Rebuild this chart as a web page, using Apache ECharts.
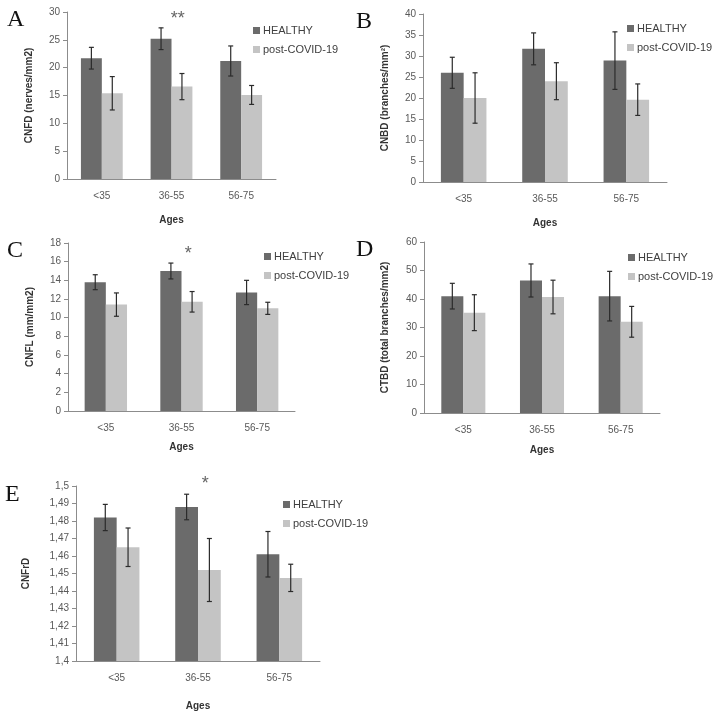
<!DOCTYPE html>
<html><head><meta charset="utf-8">
<script src="https://cdn.jsdelivr.net/npm/echarts@6/dist/echarts.min.js"></script>
<style>html,body{margin:0;padding:0;background:#fff}#c{width:715px;height:715px}</style>
</head><body><div id="c"></div>
<script>
// ---- data ----
const categories = ['<35', '36-55', '56-75'];
const seriesNames = ['HEALTHY', 'post-COVID-19'];

const cnfdHealthy = [21.7, 25.2, 21.2];
const cnfdHealthySd = [1.95, 1.95, 2.7];
const cnfdCovid = [15.4, 16.6, 15.1];
const cnfdCovidSd = [3.0, 2.35, 1.7];
const cnfdSig = ['', '**', ''];

const cnbdHealthy = [26.0, 31.7, 28.9];
const cnbdHealthySd = [3.7, 3.8, 6.85];
const cnbdCovid = [20.0, 24.0, 19.6];
const cnbdCovidSd = [6.0, 4.4, 3.75];
const cnbdSig = ['', '', ''];

const cnflHealthy = [13.8, 15.0, 12.7];
const cnflHealthySd = [0.8, 0.85, 1.3];
const cnflCovid = [11.4, 11.7, 11.0];
const cnflCovidSd = [1.25, 1.1, 0.65];
const cnflSig = ['', '*', ''];

const ctbdHealthy = [41.0, 46.5, 41.0];
const ctbdHealthySd = [4.5, 5.8, 8.7];
const ctbdCovid = [35.2, 40.7, 32.0];
const ctbdCovidSd = [6.3, 5.9, 5.4];
const ctbdSig = ['', '', ''];

const cnfrdHealthy = [1.482, 1.488, 1.461];
const cnfrdHealthySd = [0.0075, 0.0073, 0.013];
const cnfrdCovid = [1.465, 1.452, 1.4475];
const cnfrdCovidSd = [0.011, 0.018, 0.0078];
const cnfrdSig = ['', '*', ''];

const panels = [
  {letter: 'A', yName: 'CNFD (nerves/mm2)', h: cnfdHealthy, hs: cnfdHealthySd, c: cnfdCovid, cs: cnfdCovidSd, sig: cnfdSig, sigY: 28.8, min: 0, max: 30, interval: 5},
  {letter: 'B', yName: 'CNBD (branches/mm²)', h: cnbdHealthy, hs: cnbdHealthySd, c: cnbdCovid, cs: cnbdCovidSd, sig: cnbdSig, sigY: 38, min: 0, max: 40, interval: 5},
  {letter: 'C', yName: 'CNFL (mm/mm2)', h: cnflHealthy, hs: cnflHealthySd, c: cnflCovid, cs: cnflCovidSd, sig: cnflSig, sigY: 16.8, min: 0, max: 18, interval: 2},
  {letter: 'D', yName: 'CTBD (total branches/mm2)', h: ctbdHealthy, hs: ctbdHealthySd, c: ctbdCovid, cs: ctbdCovidSd, sig: ctbdSig, sigY: 58, min: 0, max: 60, interval: 10},
  {letter: 'E', yName: 'CNFrD', h: cnfrdHealthy, hs: cnfrdHealthySd, c: cnfrdCovid, cs: cnfrdCovidSd, sig: cnfrdSig, sigY: 1.5012, min: 1.4, max: 1.5, interval: 0.01, comma: true}
];

// ---- layout (positions/styles) ----
const layout = [
  {grid: {left: 67, top: 12, width: 209, height: 167}, bw: 0.30, yGap: 33, xGap: 36, legend: {left: 248, top: 20}, title: {left: 7, top: 8}},
  {grid: {left: 423, top: 14, width: 244, height: 168}, bw: 0.28, yGap: 33, xGap: 36, legend: {left: 622, top: 18}, title: {left: 356, top: 10}},
  {grid: {left: 68, top: 243, width: 227, height: 168}, bw: 0.28, yGap: 33, xGap: 31, legend: {left: 259, top: 246}, title: {left: 7, top: 239}},
  {grid: {left: 424, top: 242, width: 236, height: 171}, bw: 0.28, yGap: 34, xGap: 32, legend: {left: 623, top: 247}, title: {left: 356, top: 238}},
  {grid: {left: 76, top: 486, width: 244, height: 175}, bw: 0.28, yGap: 45, xGap: 40, legend: {left: 278, top: 494}, title: {left: 5, top: 483}}
];

const DARK = '#6b6b6b', LIGHT = '#c4c4c4', AXIS = '#8c8c8c', TXT = '#595959';
const FONT = 'Liberation Sans, Arial, sans-serif';

const option = {animation: false, grid: [], xAxis: [], yAxis: [], series: [], legend: [], title: []};

panels.forEach((p, i) => {
  const L = layout[i];
  option.grid.push(Object.assign({containLabel: false}, L.grid));
  option.title.push({text: p.letter, left: L.title.left, top: L.title.top, padding: 0,
    textStyle: {fontFamily: 'Liberation Serif, Times New Roman, serif', fontSize: 24, fontWeight: 'normal', color: '#111'}});
  option.xAxis.push({type: 'category', gridIndex: i, data: categories,
    name: 'Ages', nameLocation: 'middle', nameGap: L.xGap,
    nameTextStyle: {fontFamily: FONT, fontSize: 10, fontWeight: 'bold', color: '#333'},
    axisLine: {lineStyle: {color: AXIS}}, axisTick: {length: 4, lineStyle: {color: AXIS}},
    axisLabel: {fontFamily: FONT, fontSize: 10, color: TXT, margin: 12}});
  option.yAxis.push({type: 'value', gridIndex: i, min: p.min, max: p.max, interval: p.interval,
    name: p.yName, nameLocation: 'middle', nameGap: L.yGap,
    nameTextStyle: {fontFamily: FONT, fontSize: 10, fontWeight: 'bold', color: '#333'},
    splitLine: {show: false},
    axisLine: {show: true, lineStyle: {color: AXIS}}, axisTick: {show: true, length: 4, lineStyle: {color: AXIS}},
    axisLabel: {fontFamily: FONT, fontSize: 10, color: TXT, margin: 7,
      formatter: v => p.comma ? String(+v.toFixed(2)).replace('.', ',') : String(+v.toFixed(2))}});
  option.legend.push({orient: 'vertical', left: L.legend.left, top: L.legend.top, data: seriesNames,
    itemWidth: 7, itemHeight: 7, itemGap: 8, icon: 'rect',
    textStyle: {fontFamily: FONT, fontSize: 11, color: '#404040', padding: [0, 0, 0, -2]}});
  const bw = (L.bw * 100) + '%';
  option.series.push({type: 'bar', name: seriesNames[0], xAxisIndex: i, yAxisIndex: i, data: p.h,
    barWidth: bw, barGap: '0%', itemStyle: {color: DARK}});
  option.series.push({type: 'bar', name: seriesNames[1], xAxisIndex: i, yAxisIndex: i, data: p.c,
    barWidth: bw, barGap: '0%', itemStyle: {color: LIGHT}});
  const errData = [];
  p.h.forEach((v, k) => errData.push([k, v - p.hs[k], v + p.hs[k], 0]));
  p.c.forEach((v, k) => errData.push([k, v - p.cs[k], v + p.cs[k], 1]));
  option.series.push({type: 'custom', xAxisIndex: i, yAxisIndex: i, data: errData, z: 10, clip: false,
    renderItem: (params, api) => {
      const band = api.size([1, 0])[0];
      const off = (api.value(3) === 0 ? -1 : 1) * band * L.bw / 2;
      const top = api.coord([api.value(0), api.value(2)]);
      const bot = api.coord([api.value(0), api.value(1)]);
      const x = top[0] + off, cw = 2.5;
      const st = {stroke: '#2b2b2b', lineWidth: 1.2};
      return {type: 'group', children: [
        {type: 'line', shape: {x1: x, y1: top[1], x2: x, y2: bot[1]}, style: st},
        {type: 'line', shape: {x1: x - cw, y1: top[1], x2: x + cw, y2: top[1]}, style: st},
        {type: 'line', shape: {x1: x - cw, y1: bot[1], x2: x + cw, y2: bot[1]}, style: st}
      ]};
    }});
  const sigData = [];
  p.sig.forEach((s, k) => { if (s) sigData.push([k, p.sigY, s]); });
  option.series.push({type: 'custom', xAxisIndex: i, yAxisIndex: i, data: sigData, z: 11, clip: false,
    renderItem: (params, api) => {
      const band = api.size([1, 0])[0];
      const pt = api.coord([api.value(0), api.value(1)]);
      return {type: 'text', x: pt[0] + band * 0.09, y: pt[1],
        style: {text: sigData[params.dataIndex][2], fill: '#666', font: '18px ' + FONT, align: 'center', verticalAlign: 'middle'}};
    }});
});

const chart = echarts.init(document.getElementById('c'), null, {renderer: 'canvas'});
chart.setOption(option);
</script>
</body></html>
